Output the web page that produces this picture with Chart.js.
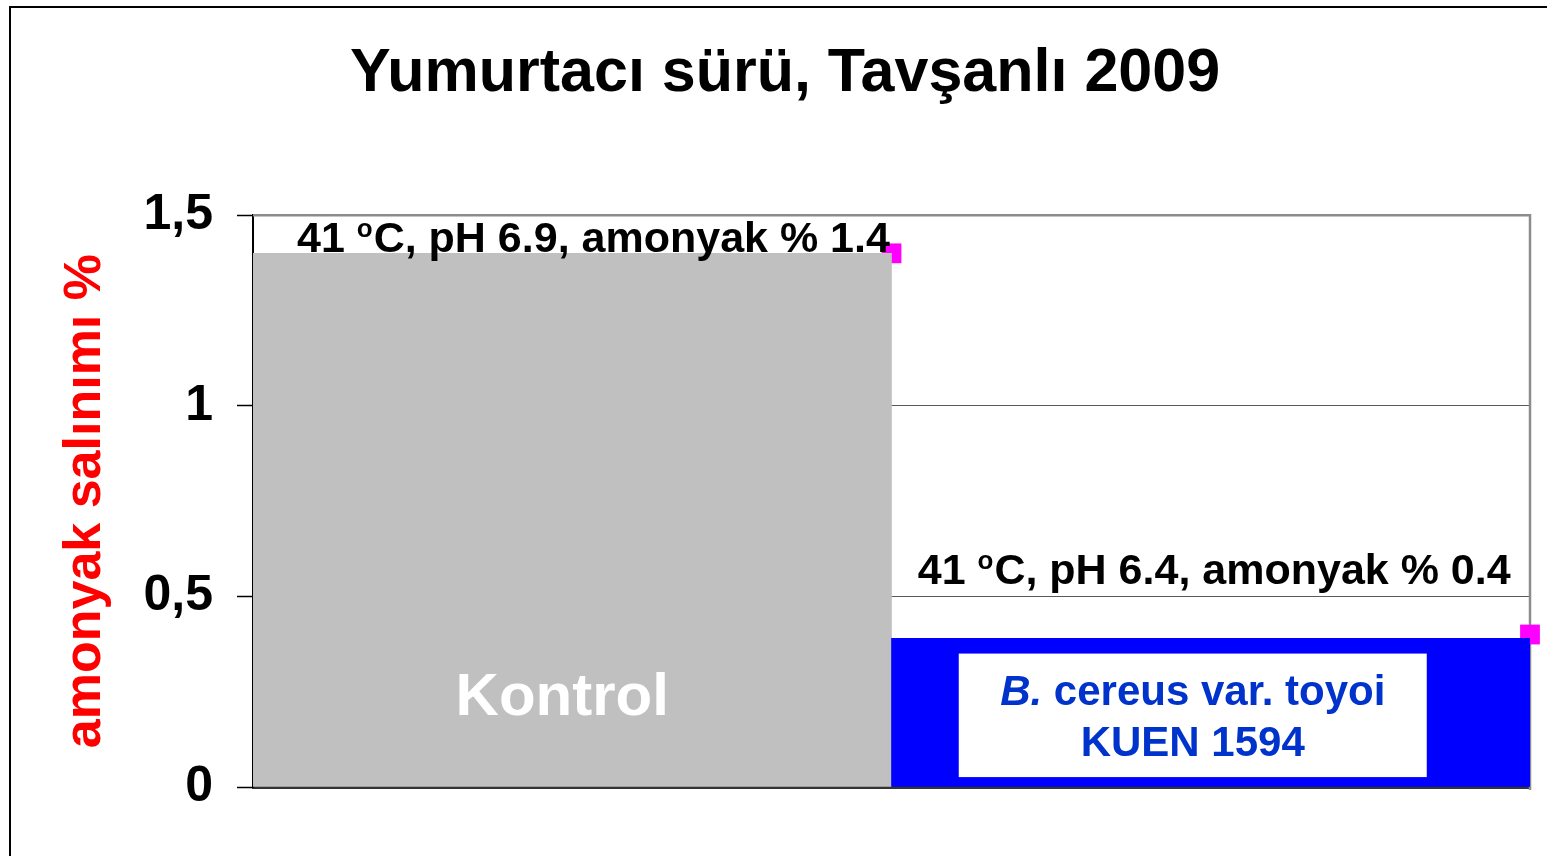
<!DOCTYPE html>
<html><head><meta charset="utf-8">
<script src="https://cdn.jsdelivr.net/npm/chart.js@4/dist/chart.umd.min.js"></script>
<style>
html,body{margin:0;padding:0;background:#fff;overflow:hidden;}
#wrap{position:relative;width:1547px;height:856px;}
#frame{position:absolute;left:9px;top:6px;width:3000px;height:3000px;border-left:2px solid #000;border-top:2px solid #000;pointer-events:none;}
</style></head><body>
<div id="wrap"><canvas id="c"></canvas><div id="frame"></div></div>
<script>
const FONT = '"Liberation Sans", Arial, Helvetica, sans-serif';
const chartTitle = 'Yumurtacı sürü, Tavşanlı 2009';
const yAxisTitle = 'amonyak salınımı %';
const categories = ['Kontrol', 'B. cereus var. toyoi KUEN 1594'];
const barValues = [1.4, 0.39];
const markerValues = [1.4, 0.4];
const yTicks = [0, 0.5, 1, 1.5];
const yTickLabels = ['0', '0,5', '1', '1,5'];
const annotationTemps = ['41', '41'];
const annotationPH = ['6.9', '6.4'];
const annotationAmmonia = ['1.4', '0.4'];
const barColors = ['#C0C0C0', '#0000FF'];
const markerColor = '#FF00FF';

function drawAnno(ctx, x, baseline, i) {
  const big = `bold 43px ${FONT}`, small = `bold 26px ${FONT}`;
  ctx.fillStyle = '#000';
  ctx.textAlign = 'left';
  ctx.textBaseline = 'alphabetic';
  ctx.font = big;
  const p1 = annotationTemps[i] + ' ';
  ctx.fillText(p1, x, baseline);
  let w = ctx.measureText(p1).width;
  ctx.font = small;
  ctx.fillText('o', x + w, baseline - 15);
  w += ctx.measureText('o').width + 1;
  ctx.font = big;
  ctx.fillText(`C, pH ${annotationPH[i]}, amonyak % ${annotationAmmonia[i]}`, x + w, baseline);
}

const overlay = {
  id: 'overlay',
  beforeDatasetsDraw(chart) {
    const {ctx, chartArea: a} = chart;
    ctx.save();
    ctx.strokeStyle = '#8c8c8c';
    ctx.lineWidth = 2.5;
    ctx.beginPath();
    ctx.moveTo(a.left, a.top);
    ctx.lineTo(a.right, a.top);
    ctx.lineTo(a.right, a.bottom + 3);
    ctx.stroke();
    ctx.restore();
  },
  afterDatasetsDraw(chart) {
    const {ctx, chartArea: a} = chart;
    const y = chart.scales.y;
    const meta = chart.getDatasetMeta(1);
    const b0 = meta.data[0], b1 = meta.data[1];
    ctx.save();
    drawAnno(ctx, a.left + 44, y.getPixelForValue(barValues[0]) - 1, 0);
    drawAnno(ctx, b1.x - 293, y.getPixelForValue(0.5) - 12, 1);
    ctx.fillStyle = '#FFFFFF';
    ctx.font = `bold 60px ${FONT}`;
    ctx.textAlign = 'center';
    ctx.textBaseline = 'alphabetic';
    ctx.fillText(categories[0], b0.x - 10, y.getPixelForValue(0.19));
    const bx = b1.x - 252, bw = 468;
    const by = y.getPixelForValue(0.35), bh = y.getPixelForValue(0.026) - by;
    ctx.fillStyle = '#FFFFFF';
    ctx.fillRect(bx, by, bw, bh);
    const cx = bx + bw / 2;
    const m = categories[1].match(/^(B\.)(.*?)\s(KUEN.*)$/);
    const italicPart = m[1], rest = m[2], line2 = m[3];
    ctx.fillStyle = '#0033CC';
    ctx.textAlign = 'left';
    ctx.font = `italic bold 42px ${FONT}`;
    const w1 = ctx.measureText(italicPart).width;
    ctx.font = `bold 42px ${FONT}`;
    const w2 = ctx.measureText(rest).width;
    const sx = cx - (w1 + w2) / 2;
    ctx.font = `italic bold 42px ${FONT}`;
    ctx.fillText(italicPart, sx, by + 51);
    ctx.font = `bold 42px ${FONT}`;
    ctx.fillText(rest, sx + w1, by + 51);
    ctx.textAlign = 'center';
    ctx.fillText(line2, cx, by + 102);
    ctx.restore();
  }
};

new Chart(document.getElementById('c'), {
  type: 'bar',
  data: {
    labels: categories,
    datasets: [
      {
        type: 'line',
        xAxisID: 'x2',
        data: markerValues.map((v, i) => ({x: i + 1, y: v})),
        showLine: false,
        clip: false,
        pointStyle: 'rect',
        pointRadius: 14,
        pointBackgroundColor: markerColor,
        pointBorderColor: markerColor,
        pointBorderWidth: 0,
        order: 2
      },
      {
        type: 'bar',
        xAxisID: 'x',
        data: barValues,
        backgroundColor: barColors,
        borderWidth: 0,
        barPercentage: 1,
        categoryPercentage: 1,
        grouped: false,
        order: 1
      }
    ]
  },
  options: {
    responsive: true,
    maintainAspectRatio: false,
    animation: false,
    layout: { padding: { left: 40, right: 17, top: 0, bottom: 69 } },
    plugins: {
      legend: { display: false },
      tooltip: { enabled: false },
      title: {
        display: true,
        text: chartTitle,
        color: '#000',
        font: { family: FONT, size: 61, weight: 'bold' },
        padding: { top: 38, bottom: 104 }
      }
    },
    scales: {
      x: {
        type: 'category',
        z: 1,
        offset: true,
        ticks: { display: false },
        grid: { display: false, drawTicks: false },
        border: { display: true, color: '#333', width: 3 }
      },
      x2: {
        type: 'linear',
        display: false,
        offset: false,
        bounds: 'ticks',
        min: 0,
        max: 2,
        position: 'bottom'
      },
      y: {
        min: 0,
        max: 1.5,
        afterBuildTicks(scale) { scale.ticks = yTicks.map(v => ({value: v})); },
        afterFit(scale) { scale.width = 213; },
        ticks: {
          callback: (v) => { const i = yTicks.indexOf(v); return i >= 0 ? yTickLabels[i] : ''; },
          font: { family: FONT, size: 50, weight: 'bold' },
          color: '#000',
          padding: 24
        },
        grid: {
          color: (c) => (c.tick && (c.tick.value === 0.5 || c.tick.value === 1)) ? '#5a5a5a' : 'rgba(0,0,0,0)',
          lineWidth: 1,
          drawTicks: true,
          tickLength: 16,
          tickColor: '#000',
          tickWidth: 1.5
        },
        border: { display: true, color: '#000', width: 2 },
        title: {
          display: true,
          text: yAxisTitle,
          color: '#FF0000',
          font: { family: FONT, size: 52, weight: 'bold' },
          padding: { top: 14, bottom: 0 }
        }
      }
    }
  },
  plugins: [overlay]
});
</script>
</body></html>
